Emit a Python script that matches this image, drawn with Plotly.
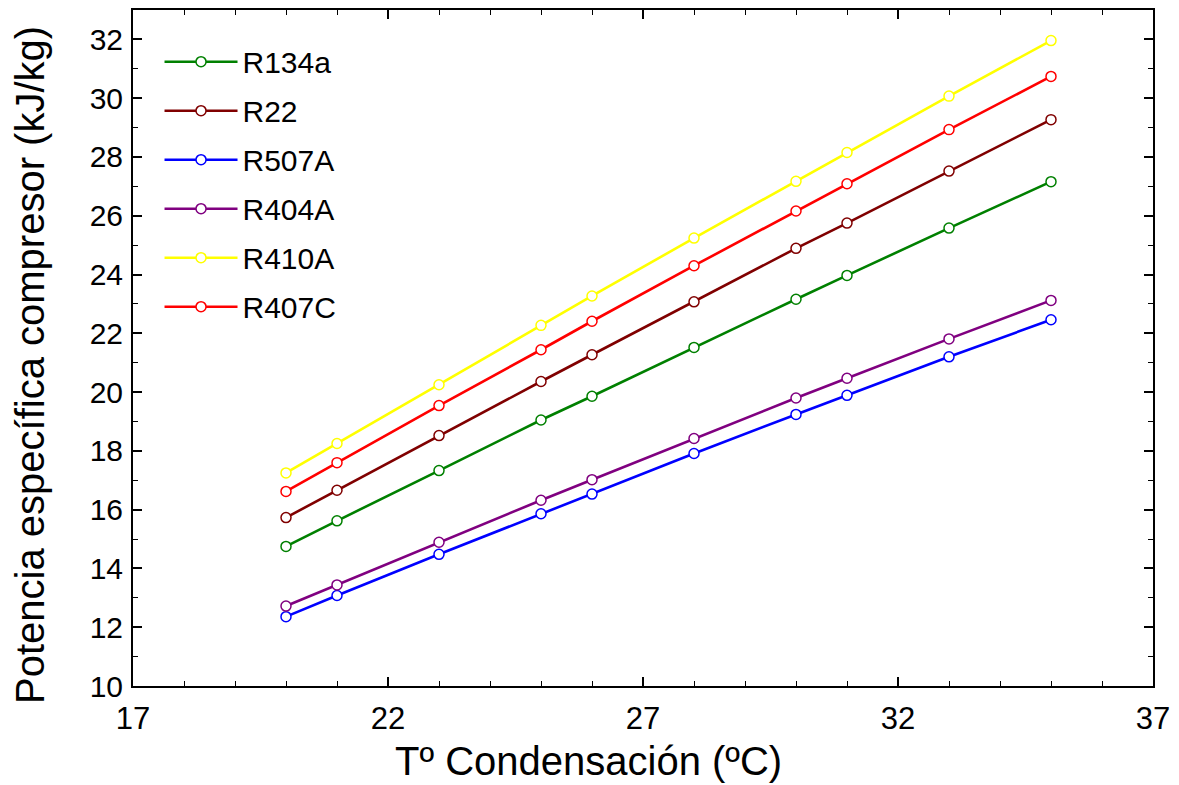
import plotly.graph_objects as go

temps = [20, 21, 23, 25, 26, 28, 30, 31, 33, 35]

r134a = [14.75, 15.62, 17.33, 19.05, 19.86, 21.52, 23.16, 23.97, 25.58, 27.16]
r22 = [15.73, 16.66, 18.52, 20.36, 21.27, 23.07, 24.89, 25.75, 27.52, 29.27]
r507a = [12.36, 13.08, 14.48, 15.86, 16.53, 17.91, 19.24, 19.89, 21.20, 22.46]
r404a = [12.72, 13.44, 14.89, 16.32, 17.02, 18.42, 19.80, 20.47, 21.81, 23.12]
r410a = [17.25, 18.25, 20.25, 22.27, 23.27, 25.24, 27.17, 28.15, 30.07, 31.96]
r407c = [16.62, 17.60, 19.54, 21.44, 22.41, 24.30, 26.16, 27.09, 28.93, 30.74]

series = [
    ("R134a", r134a, "#008000"),
    ("R22", r22, "#800000"),
    ("R507A", r507a, "#0000FF"),
    ("R404A", r404a, "#800080"),
    ("R410A", r410a, "#FFFF00"),
    ("R407C", r407c, "#FF0000"),
]

x_ticks = [17, 22, 27, 32, 37]
y_ticks = [10, 12, 14, 16, 18, 20, 22, 24, 26, 28, 30, 32]

fig = go.Figure()
for i, (name, vals, col) in enumerate(series):
    fig.add_trace(go.Scatter(
        x=temps, y=vals, name=name, mode="lines+markers",
        legendgroup=f"g{i}",
        line=dict(color=col, width=2.6),
        marker=dict(symbol="circle", size=10, color="white",
                    line=dict(color=col, width=1.5)),
    ))

font_fam = "Liberation Sans, Arial, sans-serif"

fig.update_layout(
    width=1179, height=785,
    margin=dict(l=133, r=26, t=8, b=99),
    paper_bgcolor="white", plot_bgcolor="white",
    font=dict(family=font_fam, color="black"),
    showlegend=True,
    legend=dict(
        x=0.026, y=0.962, xanchor="left", yanchor="top",
        bgcolor="rgba(0,0,0,0)", borderwidth=0,
        font=dict(size=30, family=font_fam, color="black"),
        itemwidth=73, tracegroupgap=7,
    ),
    xaxis=dict(
        range=[17, 37], tickvals=x_ticks, ticktext=[str(v) for v in x_ticks],
        showgrid=False, zeroline=False,
        showline=True, linecolor="black", linewidth=2, mirror="ticks",
        ticks="inside", ticklen=9, tickwidth=1.5, tickcolor="black",
        minor=dict(dtick=1, ticks="inside", ticklen=5, tickwidth=1.2, tickcolor="black"),
        tickfont=dict(size=31, family=font_fam),
        ticklabelstandoff=4,
    ),
    yaxis=dict(
        range=[10, 33], tickvals=y_ticks, ticktext=[str(v) for v in y_ticks],
        showgrid=False, zeroline=False,
        showline=True, linecolor="black", linewidth=2, mirror="ticks",
        ticks="inside", ticklen=9, tickwidth=1.5, tickcolor="black",
        minor=dict(dtick=1, ticks="inside", ticklen=5, tickwidth=1.2, tickcolor="black"),
        tickfont=dict(size=30, family=font_fam),
        ticklabelstandoff=2,
    ),
    annotations=[
        dict(text="Tº Condensación (ºC)", xref="paper", yref="paper",
             x=(588 - 133) / 1020, y=-(785 - 686) / 678, xanchor="center", yanchor="bottom",
             showarrow=False, font=dict(size=40, family=font_fam, color="black")),
        dict(text="Potencia específica compresor (kJ/kg)", xref="paper", yref="paper",
             x=-(133 - 6) / 1020, y=(686 - 364) / 678, xanchor="left", yanchor="middle",
             textangle=-90, showarrow=False,
             font=dict(size=40, family=font_fam, color="black")),
    ],
)

fig.write_html("out.html")
